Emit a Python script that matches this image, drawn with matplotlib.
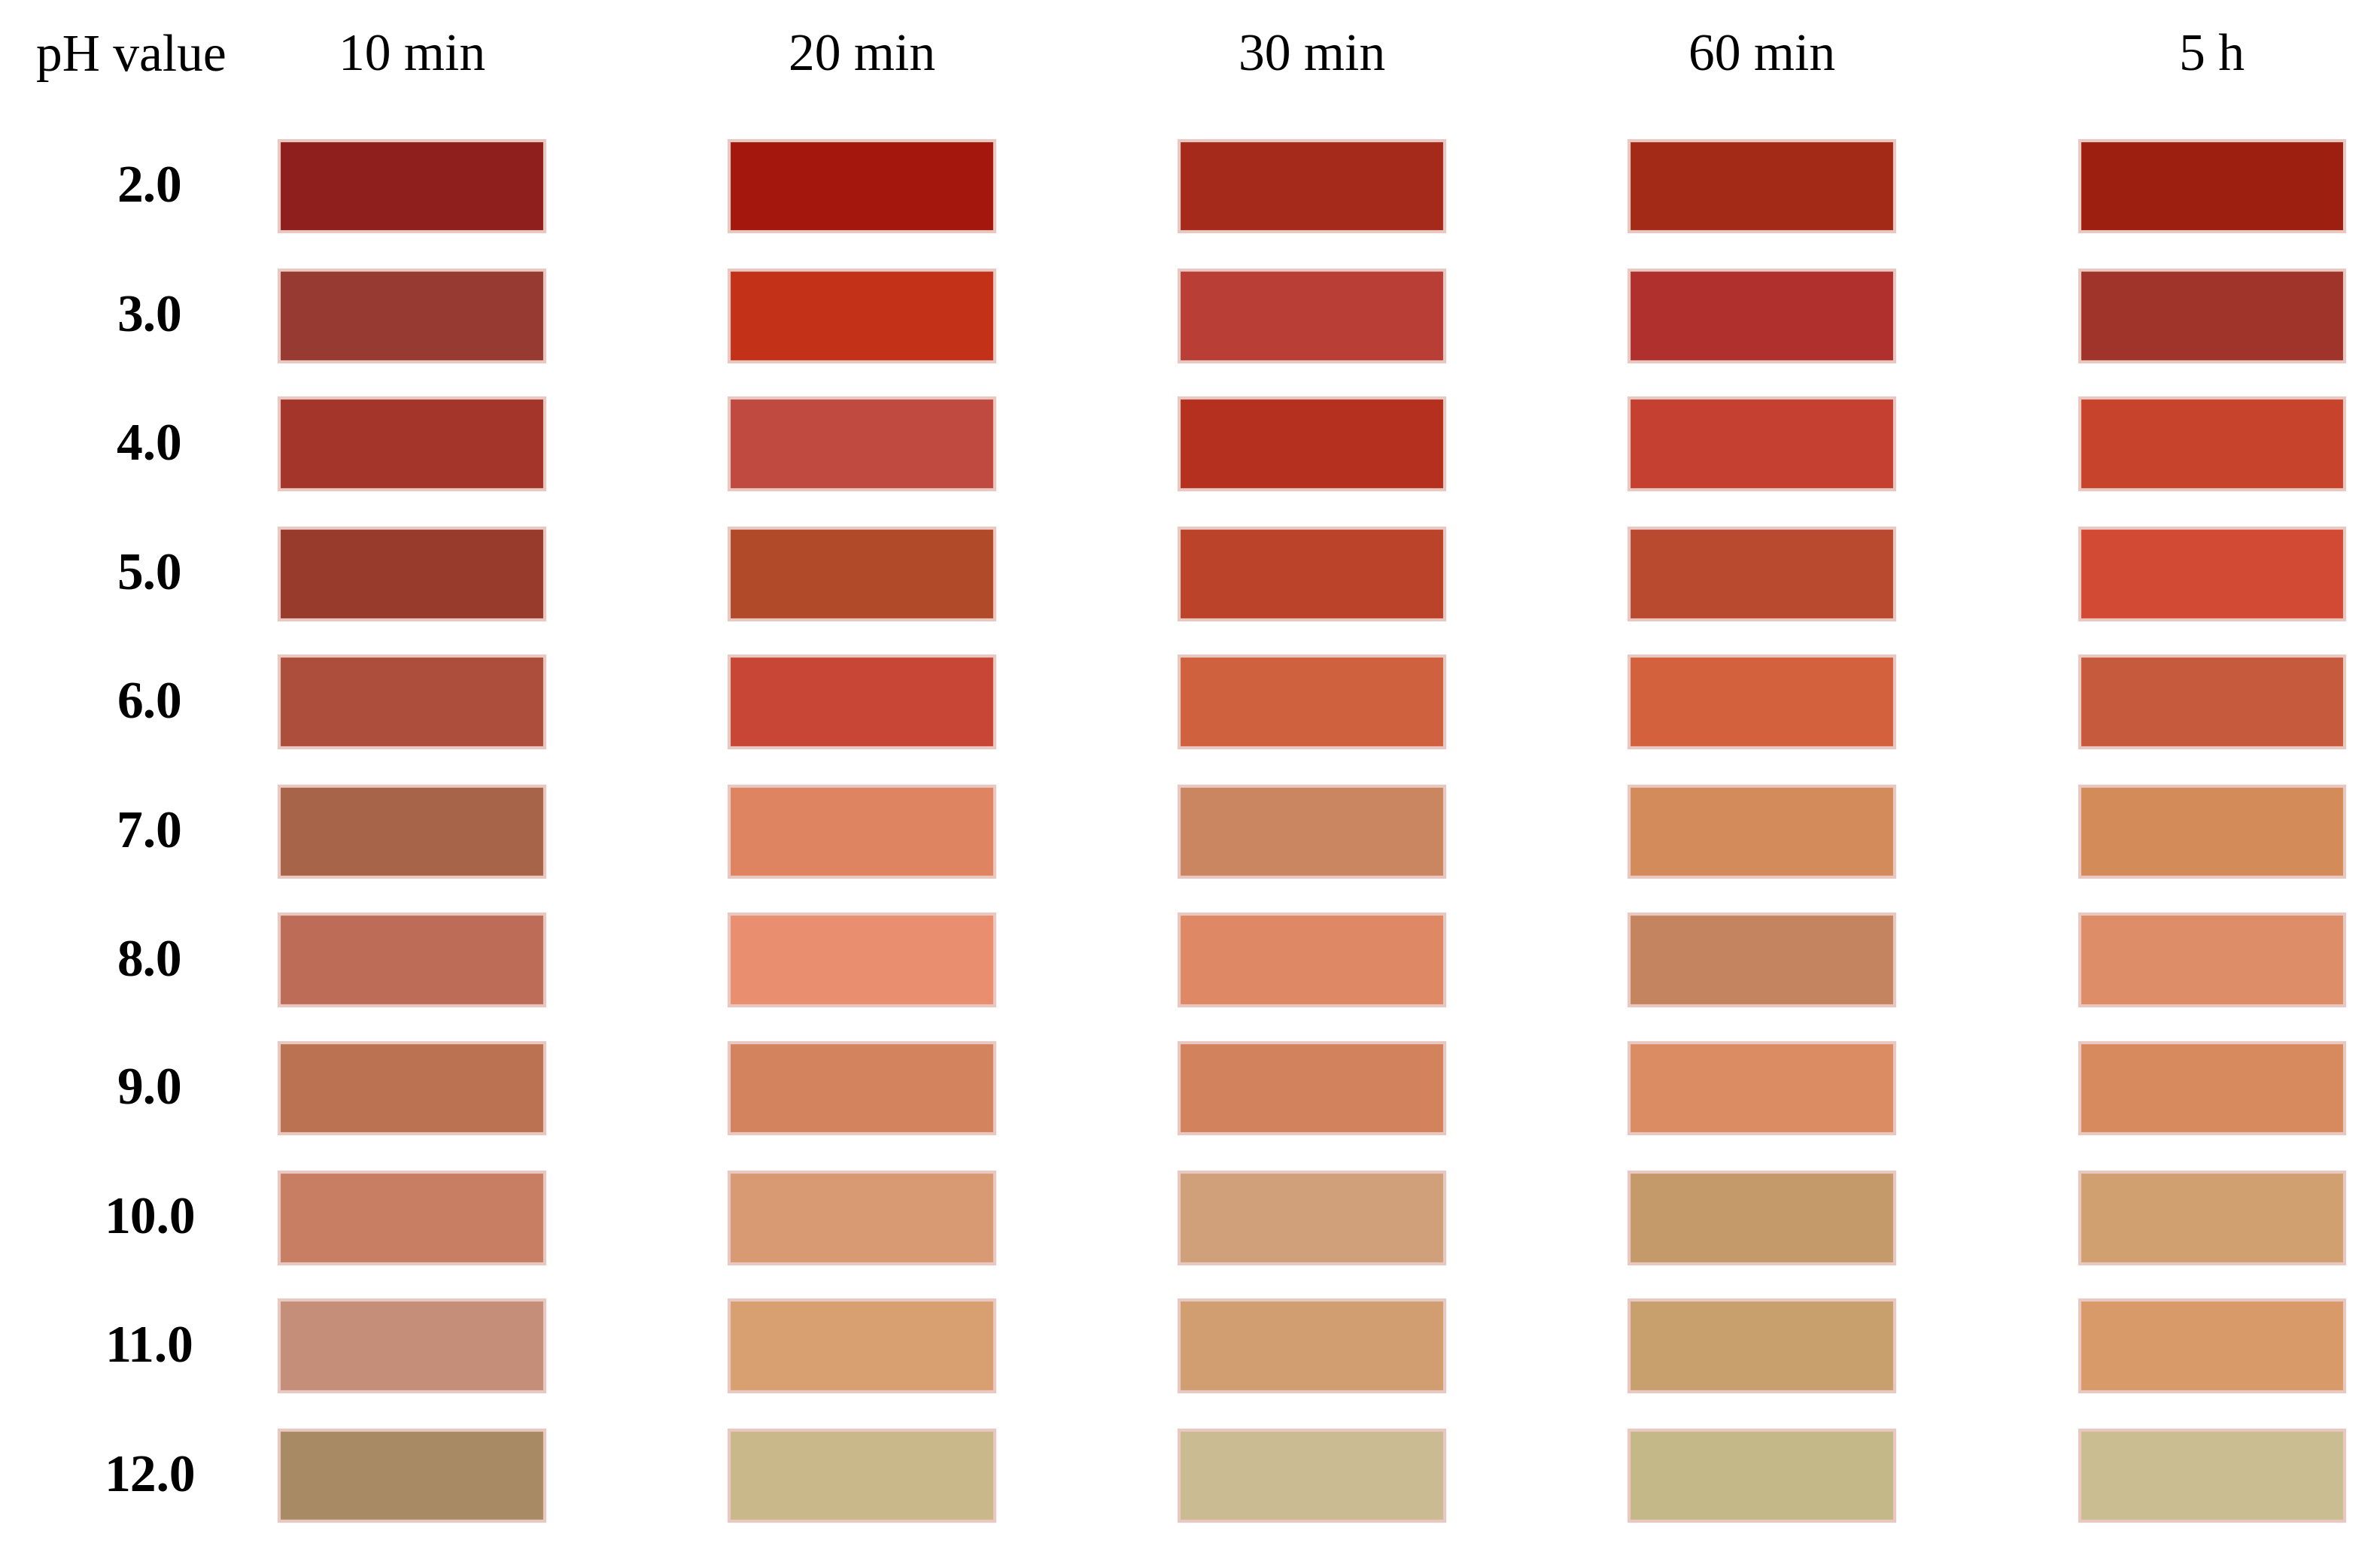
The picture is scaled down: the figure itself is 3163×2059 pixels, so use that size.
import matplotlib
matplotlib.use("Agg")
from matplotlib import pyplot as plt
from matplotlib.patches import Rectangle

times = ["10 min", "20 min", "30 min", "60 min", "5 h"]
ph_labels = ["2.0", "3.0", "4.0", "5.0", "6.0", "7.0", "8.0", "9.0", "10.0", "11.0", "12.0"]

# strip colours, one row per pH, one column per time
colors = [
    ["#8f1f1c", "#a3170c", "#a52a1c", "#a32a17", "#9c1f10"],
    ["#963a32", "#c33218", "#b83e36", "#b0302e", "#a0342a"],
    ["#a3352a", "#c04a40", "#b5301e", "#c54030", "#c8432c"],
    ["#983a2c", "#b04a28", "#bb4329", "#b94a30", "#d24a34"],
    ["#ad4d3c", "#c84635", "#d0613f", "#d3613e", "#c65a3c"],
    ["#a86448", "#de8460", "#c98660", "#d38b5c", "#d48b5a"],
    ["#bd6c58", "#e98e6f", "#de8866", "#c4845f", "#dd8e68"],
    ["#bb7252", "#d3845e", "#d2825c", "#dc8c62", "#d68a5e"],
    ["#c87e62", "#d79a72", "#d0a07a", "#c49a6a", "#d0a070"],
    ["#c48e78", "#d8a070", "#d09e70", "#c8a06e", "#d89a68"],
    ["#a88a64", "#c8b88a", "#cabb92", "#c4b888", "#cbbd92"],
]

fig = plt.figure(figsize=(15.815, 10.295), dpi=200)
ax = fig.add_axes([0, 0, 1, 1])
ax.set_xlim(0, 1560)
ax.set_ylim(1015, 0)
ax.axis("off")

col_left = [183, 478, 773, 1068, 1363]
col_w = 174
row_top = [92, 177, 261, 346, 430, 515, 599, 683, 768, 852, 937]
row_h = 60

for i, row in enumerate(colors):
    for j, c in enumerate(row):
        ax.add_patch(Rectangle((col_left[j], row_top[i]), col_w, row_h,
                               facecolor=c, edgecolor="#e8c8c0", linewidth=1.5))
    ax.text(98, row_top[i] + row_h / 2 + 2, ph_labels[i], ha="center", va="center",
            fontsize=25, fontweight="bold", family="Liberation Serif")

ax.text(86, 38, "pH value", ha="center", va="center", fontsize=25, family="Liberation Serif")
for j, t in enumerate(times):
    ax.text(col_left[j] + col_w / 2, 38, t, ha="center", va="center",
            fontsize=25, family="Liberation Serif")

fig.savefig("out.png", dpi=200)
